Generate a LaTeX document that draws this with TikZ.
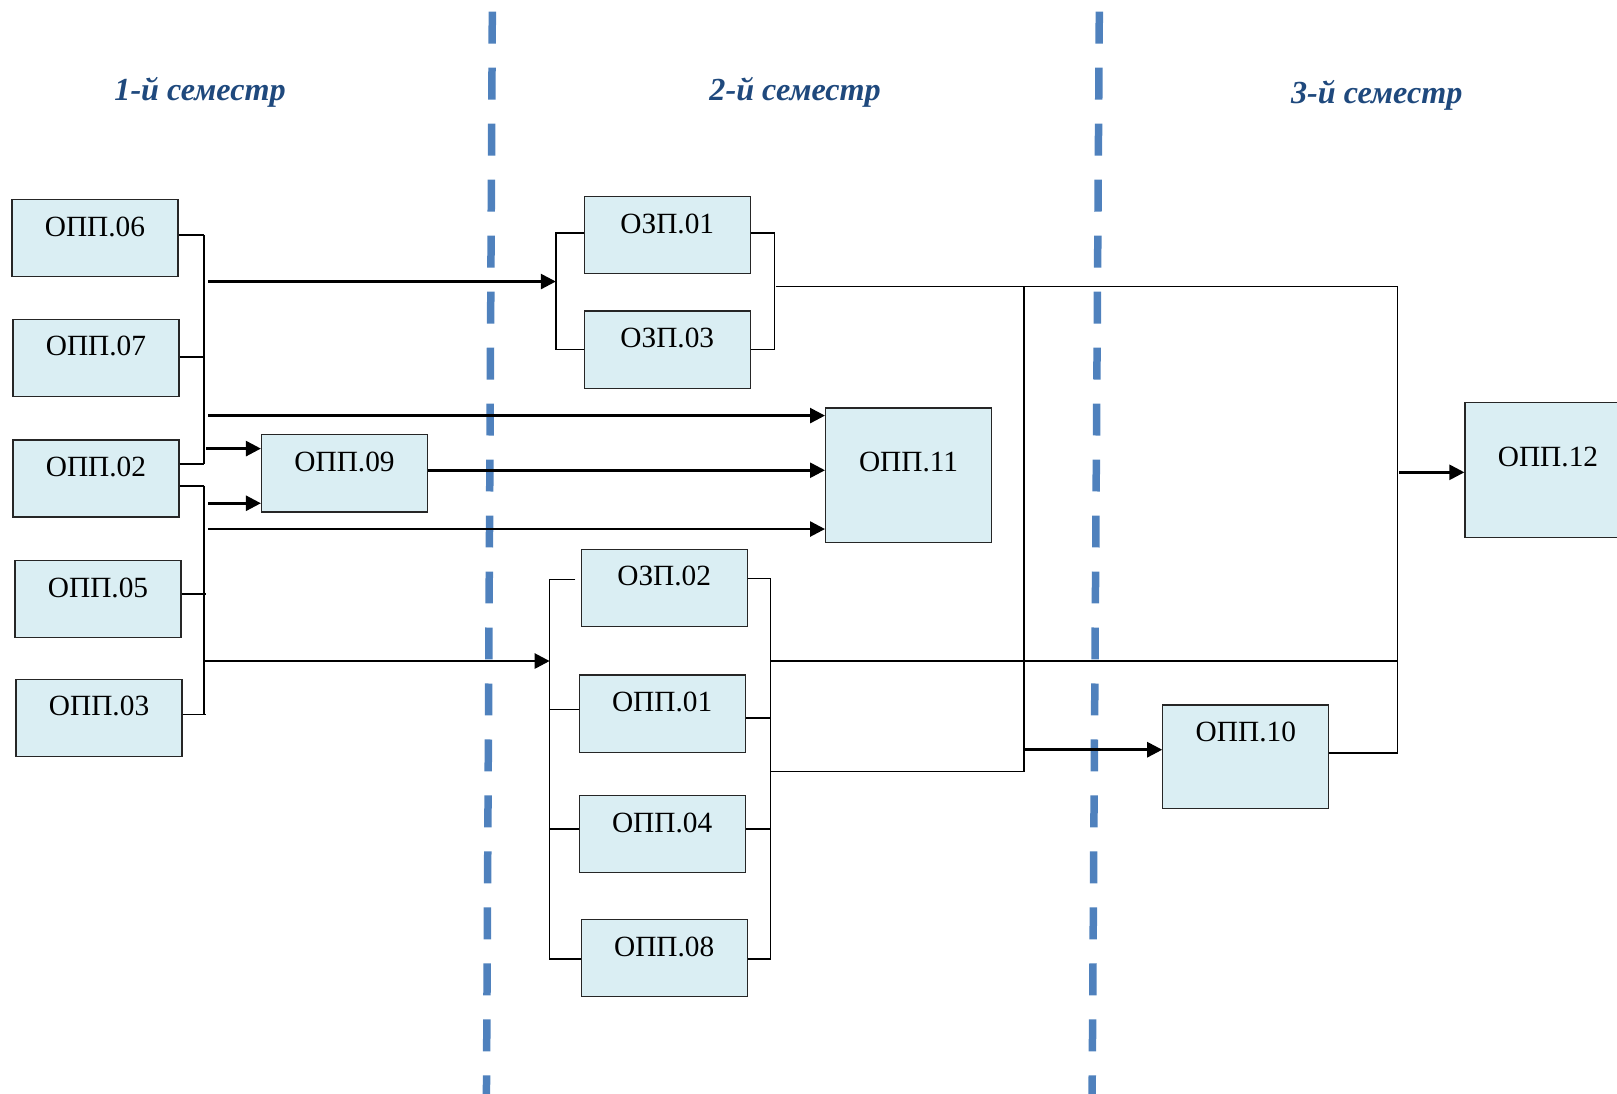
\documentclass[tikz,border=0pt]{standalone}
\usepackage{fontspec}
\setmainfont{Liberation Serif}
\usetikzlibrary{arrows.meta}
\definecolor{boxfill}{HTML}{DAEEF3}
\definecolor{sepblue}{HTML}{4F81BD}
\definecolor{titleblue}{RGB}{31,73,125}
\tikzset{
  box/.style 2 args={draw=black!85, fill=boxfill, line width=0.7pt, inner sep=0pt,
    anchor=north west, minimum width=3.32cm, text height=#1, text depth=#2,
    font=\fontsize{16.7}{18}\selectfont},
  stdbox/.style={box={20.9pt}{23.0pt}},
  tallbox/.style={box={36.0pt}{40.6pt}},
  midbox/.style={box={20.9pt}{38.2pt}},
  ln/.style={line width=0.9pt},
  arr/.style={line width=1.5pt, -{Triangle[length=0.30cm,width=0.30cm]}},
  sepline/.style={draw=sepblue, line width=0.15cm, dash pattern=on 0.639cm off 0.481cm},
  sem/.style={text=titleblue, font=\fontsize{18.3}{21}\selectfont\bfseries\itshape}
}
\begin{document}
\begin{tikzpicture}[x=0.020626cm, y=-0.020626cm]
\useasboundingbox (0,0) rectangle (1568,1060);

% semester separators
\draw[sepline] (477.4,11.3) -- (471.6,1080);
\draw[sepline] (1066,11.3) -- (1058.9,1080);

% titles
\node[sem] (t1) at (194,90) {1-й семестр};
\node[sem] (t2) at (771,90) {2-й семестр};
\node[sem] (t3) at (1335,92) {3-й семестр};

% boxes
\node[stdbox] (o06) at (11,193) {ОПП.06};
\node[stdbox] (o07) at (12,309) {ОПП.07};
\node[stdbox] (o02) at (12,426) {ОПП.02};
\node[stdbox] (o05) at (14,543) {ОПП.05};
\node[stdbox] (o03) at (15,658) {ОПП.03};
\node[stdbox] (o09) at (253,421) {ОПП.09};
\node[stdbox] (z01) at (566,190) {ОЗП.01};
\node[stdbox] (z03) at (566,301) {ОЗП.03};
\node[tallbox] (o11) at (800,395) {ОПП.11};
\node[stdbox] (z02) at (563,532) {ОЗП.02};
\node[stdbox] (o01) at (561,654) {ОПП.01};
\node[stdbox] (o04) at (561,771) {ОПП.04};
\node[stdbox] (o08) at (563,891) {ОПП.08};
\node[midbox] (o10) at (1127,683) {ОПП.10};
\node[tallbox] (o12) at (1420,390) {ОПП.12};

% first-semester buses
\coordinate (bus1t) at (198,228);
\coordinate (bus1b) at (198,450);
\coordinate (bus2t) at (198,471);
\coordinate (bus2b) at (198,693);
\draw[ln] (bus1t) -- (bus1b);
\draw[ln] (bus2t) -- (bus2b);
\draw[ln] (o06.north east) ++(0,35) coordinate (c06) -- (c06 -| bus1t);
\draw[ln] (o07.north east) ++(0,37) coordinate (c07) -- (c07 -| bus1t);
\draw[ln] (o02.north east) ++(0,24) coordinate (c02a) -- (c02a -| bus1t);
\draw[ln] (o02.north east) ++(0,45) coordinate (c02b) -- (c02b -| bus2t);
\draw[ln] (o05.north east) ++(0,33) coordinate (c05) -- (200,576);
\draw[ln] (o03.north east) ++(0,35) coordinate (c03) -- (200,693);

% upper bracket (ОЗП.01 / ОЗП.03)
\path (z01.north west) ++(0,36) coordinate (l01);
\path (z03.north west) ++(0,38) coordinate (l03);
\draw[ln] (l01) -- (539,226) |- (l03);
\path (z01.north east) ++(0,36) coordinate (r01);
\path (z03.north east) ++(0,38) coordinate (r03);
\draw[ln] (r01) -- (751,226) |- (r03);

% lower bracket
\draw[ln] (558,562) -- (533,562) -- (533,930) -- (o08.west |- 533,930);
\draw[ln] (533,688) -- (o01.west |- 533,688);
\draw[ln] (533,804) -- (o04.west |- 533,804);
\draw[ln] (z02.east |- 747,561) -- (747,561) -- (747,930) -- (o08.east |- 747,930);
\draw[ln] (o01.east |- 748,696) -- (748,696);
\draw[ln] (o04.east |- 748,804) -- (748,804);

% arrows from first semester
\draw[arr] (202,273) -- (539,273);
\draw[arr] (202,403) -- (o11.west |- 202,403);
\draw[arr] (200,435) -- (o09.west |- 200,435);
\draw[arr] (202,488) -- (o09.west |- 202,488);
\draw[arr] (202,513) -- (o11.west |- 202,513);
\draw[arr] (198,641) -- (533,641);
\draw[arr] (o09.east |- 414,456) -- (o11.west |- 414,456);

% right side
\coordinate (rbt) at (1355,278);
\coordinate (rbb) at (1355,730);
\draw[ln] (752,278) -- (rbt) -- (rbb) -- (o10.east |- rbb);
\draw[ln] (993,278) -- (993,748) -- (747,748);
\draw[ln] (747,641) -- (1356,641);
\draw[arr] (993,727) -- (o10.west |- 993,727);
\draw[arr] (1357,458) -- (o12.west |- 1357,458);
\end{tikzpicture}
\end{document}
